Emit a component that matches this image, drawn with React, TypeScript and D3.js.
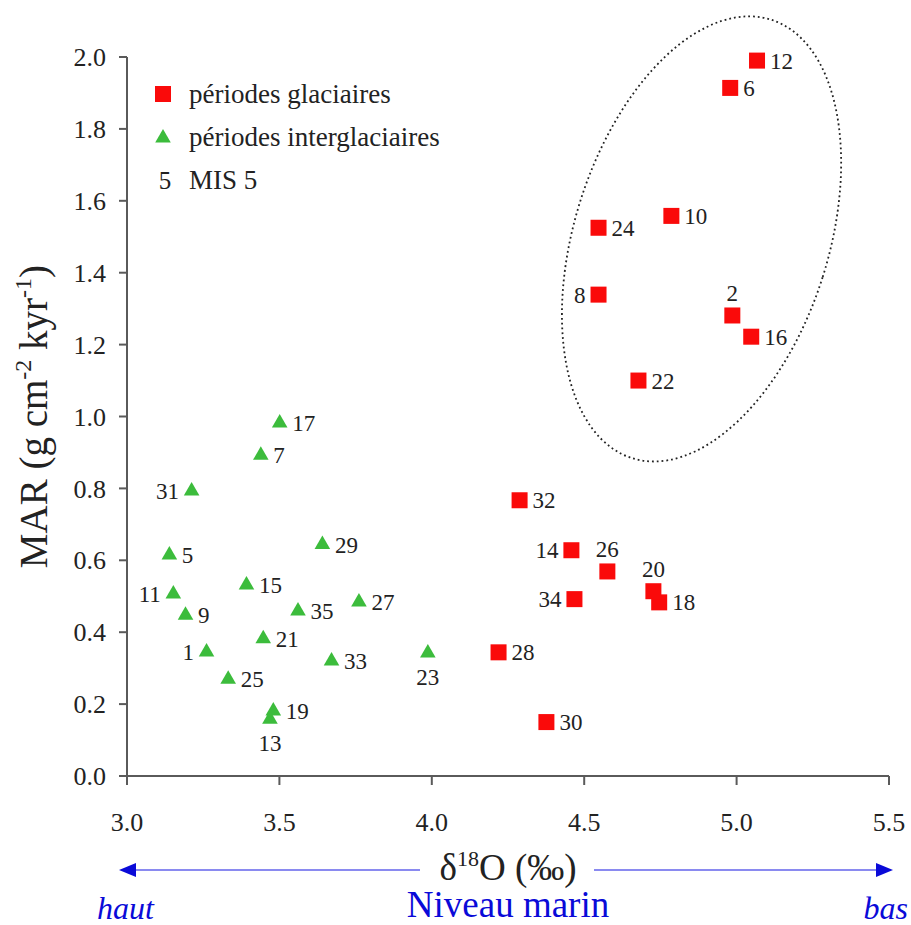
import React, { useEffect } from "react";
import * as d3 from "d3";

// ---- Data ----
const glacialMIS = [2, 6, 8, 10, 12, 14, 16, 18, 20, 22, 24, 26, 28, 30, 32, 34];
const glacialD18O = [4.986, 4.979, 4.547, 4.786, 5.067, 4.458, 5.048, 4.746, 4.727, 4.678, 4.547, 4.576, 4.219, 4.376, 4.288, 4.468];
const glacialMAR = [1.281, 1.914, 1.339, 1.558, 1.99, 0.628, 1.222, 0.483, 0.514, 1.1, 1.525, 0.569, 0.344, 0.15, 0.767, 0.492];
const glacialLabelPos = ["t", "r", "l", "r", "r", "l", "r", "r", "t", "r", "r", "t", "r", "r", "r", "l"];

const interMIS = [1, 5, 7, 9, 11, 13, 15, 17, 19, 21, 23, 25, 27, 29, 31, 33, 35];
const interD18O = [3.261, 3.139, 3.439, 3.192, 3.152, 3.469, 3.392, 3.501, 3.48, 3.447, 3.987, 3.332, 3.761, 3.641, 3.212, 3.671, 3.561];
const interMAR = [0.345, 0.615, 0.892, 0.447, 0.506, 0.158, 0.531, 0.982, 0.181, 0.382, 0.342, 0.269, 0.484, 0.644, 0.793, 0.32, 0.459];
const interLabelPos = ["l", "r", "r", "r", "l", "b", "r", "r", "r", "r", "b", "r", "r", "r", "l", "r", "r"];

const xTicks = [3.0, 3.5, 4.0, 4.5, 5.0, 5.5];
const yTicks = [0.0, 0.2, 0.4, 0.6, 0.8, 1.0, 1.2, 1.4, 1.6, 1.8, 2.0];

const legendLabels = ["périodes glaciaires", "périodes interglaciaires", "MIS 5"];
const ellipseCenter = [4.885, 1.494];

// ---- Layout ----
const W = 911;
const H = 925;
const FONT = "Liberation Serif, Times New Roman, DejaVu Serif, serif";
const RED = "#fa0a0a";
const GREEN = "#3cbc3c";
const AXIS = "#5a5a5a";
const BLUE = "#0a0ad8";

const x = d3.scaleLinear().domain([3.0, 5.5]).range([127, 889]);
const y = d3.scaleLinear().domain([0, 2.0]).range([776, 57]);

const triPath = d3.symbol().type(d3.symbolTriangle).size(105)() as string;

function labelProps(px: number, py: number, pos: string, half: number) {
  const gap = 5;
  if (pos === "r") return { x: px + half + gap, y: py, anchor: "start", dy: "0.35em" };
  if (pos === "l") return { x: px - half - gap, y: py, anchor: "end", dy: "0.35em" };
  if (pos === "t") return { x: px, y: py - 14, anchor: "middle", dy: "0" };
  return { x: px, y: py + 32, anchor: "middle", dy: "0" };
}

const textStyle = { fontFamily: FONT };

export default function App() {
  useEffect(() => {
    document.body.style.margin = "0";
  }, []);

  const [ecx, ecy] = [x(ellipseCenter[0]), y(ellipseCenter[1])];

  return (
    <svg width={W} height={H} style={{ position: "absolute", left: 0, top: 0, background: "#fff", fontFamily: FONT }}>
      <rect x={0} y={0} width={W} height={H} fill="#fff" />

      {/* axes */}
      <line x1={x(3.0)} x2={x(3.0)} y1={y(2.0)} y2={y(0)} stroke={AXIS} strokeWidth={2} />
      <line x1={x(3.0)} x2={x(5.5)} y1={y(0)} y2={y(0)} stroke={AXIS} strokeWidth={2} />
      {yTicks.map((t) => (
        <g key={"yt" + t}>
          <line x1={x(3.0) - 8} x2={x(3.0)} y1={y(t)} y2={y(t)} stroke={AXIS} strokeWidth={2} />
          <text style={textStyle} x={x(3.0) - 21} y={y(t)} dy="0.35em" textAnchor="end" fontSize={26} fill="#222">
            {d3.format(".1f")(t)}
          </text>
        </g>
      ))}
      {xTicks.map((t) => (
        <g key={"xt" + t}>
          <line x1={x(t)} x2={x(t)} y1={y(0)} y2={y(0) + 9} stroke={AXIS} strokeWidth={2} />
          <text style={textStyle} x={x(t)} y={831} textAnchor="middle" fontSize={26} fill="#222">
            {d3.format(".1f")(t)}
          </text>
        </g>
      ))}

      {/* y axis title */}
      <text style={textStyle} transform={`translate(47, ${(y(0) + y(2)) / 2}) rotate(-90)`} textAnchor="middle" fontSize={39} fill="#222">
        MAR (g cm
        <tspan fontSize={24} dy={-16}>-2</tspan>
        <tspan dy={16}> kyr</tspan>
        <tspan fontSize={24} dy={-16}>-1</tspan>
        <tspan dy={16}>)</tspan>
      </text>

      {/* x axis title */}
      <text style={textStyle} x={(x(3) + x(5.5)) / 2} y={880} textAnchor="middle" fontSize={37} fill="#222">
        δ<tspan fontSize={22} dy={-14}>18</tspan>
        <tspan dy={14}>O (‰)</tspan>
      </text>

      {/* sea level arrows */}
      <line x1={134} x2={420} y1={870} y2={870} stroke="#8a8af0" strokeWidth={2} />
      <line x1={594} x2={878} y1={870} y2={870} stroke="#8a8af0" strokeWidth={2} />
      <path d={`M119,870 L136,863 L136,877 Z`} fill={BLUE} />
      <path d={`M893,870 L876,863 L876,877 Z`} fill={BLUE} />
      <text style={textStyle} x={97} y={919} fontSize={32} fontStyle="italic" fill={BLUE}>haut</text>
      <text style={textStyle} x={908} y={919} textAnchor="end" fontSize={32} fontStyle="italic" fill={BLUE}>bas</text>
      <text style={textStyle} x={508} y={917} textAnchor="middle" fontSize={37} fill={BLUE}>Niveau marin</text>

      {/* ellipse */}
      <ellipse
        cx={0}
        cy={0}
        rx={127}
        ry={230}
        transform={`translate(${ecx}, ${ecy}) rotate(17.6)`}
        fill="none"
        stroke="#222"
        strokeWidth={1.8}
        strokeDasharray="1.8 3"
      />

      {/* legend */}
      <rect x={155} y={86} width={16} height={16} fill={RED} />
      <text style={textStyle} x={189} y={94} dy="0.35em" fontSize={27} fill="#222">{legendLabels[0]}</text>
      <path d={triPath} transform="translate(163, 138)" fill={GREEN} />
      <text style={textStyle} x={189} y={137} dy="0.35em" fontSize={27} fill="#222">{legendLabels[1]}</text>
      <text style={textStyle} x={165} y={180} dy="0.35em" textAnchor="middle" fontSize={25} fill="#222">5</text>
      <text style={textStyle} x={189} y={180} dy="0.35em" fontSize={27} fill="#222">{legendLabels[2]}</text>

      {/* interglacial triangles */}
      {interMIS.map((m, i) => {
        const px = x(interD18O[i]);
        const py = y(interMAR[i]);
        const lp = labelProps(px, py, interLabelPos[i], 7.5);
        return (
          <g key={"i" + m}>
            <path d={triPath} transform={`translate(${px}, ${py})`} fill={GREEN} />
            <text style={textStyle} x={lp.x} y={lp.y} dy={lp.dy} textAnchor={lp.anchor as any} fontSize={23} fill="#222">
              {m}
            </text>
          </g>
        );
      })}

      {/* glacial squares */}
      {glacialMIS.map((m, i) => {
        const px = x(glacialD18O[i]);
        const py = y(glacialMAR[i]);
        const lp = labelProps(px, py, glacialLabelPos[i], 8);
        return (
          <g key={"g" + m}>
            <rect x={px - 8} y={py - 8} width={16} height={16} fill={RED} />
            <text style={textStyle} x={lp.x} y={lp.y} dy={lp.dy} textAnchor={lp.anchor as any} fontSize={23} fill="#222">
              {m}
            </text>
          </g>
        );
      })}
    </svg>
  );
}
